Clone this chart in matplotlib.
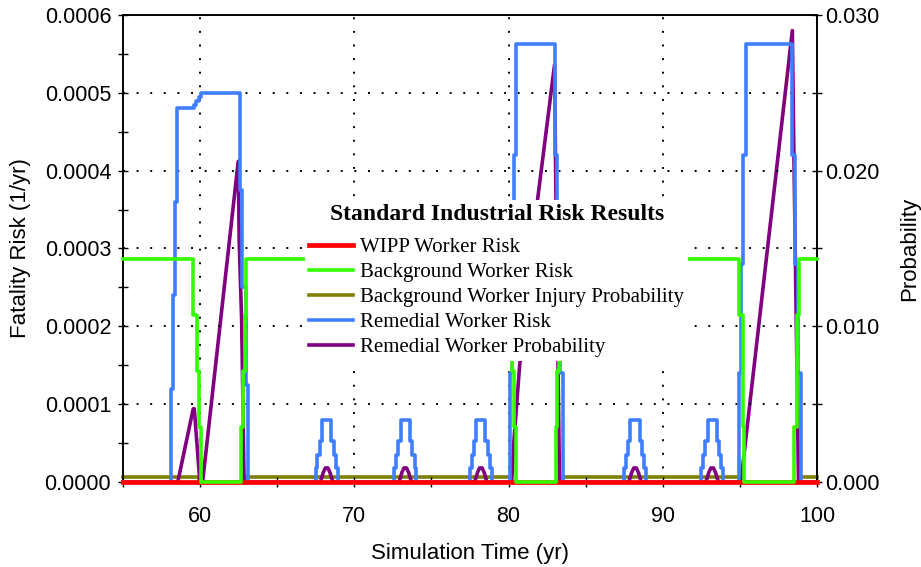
import matplotlib
matplotlib.use("Agg")
import matplotlib.pyplot as plt
from matplotlib.ticker import MultipleLocator, FormatStrFormatter

# ---- values ----
# WIPP worker risk (1/yr) - lies on the axis for the whole run
wipp_t = [55.0, 100.0]
wipp_risk = [0.0, 0.0]

# background worker risk (1/yr), step series (value holds until next time)
bg_t = [55.0, 59.55, 59.8, 59.94, 60.03, 62.64, 62.75, 62.9, 63.0,
        80.1, 80.2, 80.35, 80.5, 83.05, 83.15, 83.3, 83.4,
        94.96, 95.18, 95.28, 98.5, 98.7, 98.85, 100.0]
bg_risk = [2.87e-4, 2.15e-4, 1.43e-4, 0.7e-4, 0.0, 0.7e-4, 1.43e-4, 2.15e-4, 2.87e-4,
           2.15e-4, 1.43e-4, 0.7e-4, 0.0, 0.7e-4, 1.43e-4, 2.15e-4, 2.87e-4,
           2.15e-4, 0.7e-4, 0.0, 0.7e-4, 2.15e-4, 2.87e-4, 2.87e-4]

# background worker injury probability, step series
inj_t = [55.0, 59.9, 62.9, 80.15, 83.45, 95.2, 98.85, 100.0]
inj_prob = [3e-4, 0.0, 3e-4, 0.0, 3e-4, 0.0, 3e-4, 3e-4]

# remedial worker risk (1/yr), step series
rem_t = [55.0,
         58.1, 58.25, 58.37, 58.48, 59.6, 59.75, 59.9, 60.05, 62.6, 62.7, 62.96, 63.1,
         67.48, 67.6, 67.75, 67.9, 68.5, 68.65, 68.8, 68.92,
         72.58, 72.7, 72.85, 73.0, 73.6, 73.75, 73.9, 74.02,
         77.48, 77.6, 77.75, 77.9, 78.5, 78.65, 78.8, 78.92,
         80.1, 80.22, 80.35, 80.47, 83.0, 83.17, 83.35, 83.52,
         87.48, 87.6, 87.75, 87.9, 88.5, 88.65, 88.8, 88.92,
         92.48, 92.6, 92.75, 92.9, 93.5, 93.65, 93.8, 93.92,
         94.96, 95.1, 95.2, 95.4, 98.35, 98.55, 98.75, 98.95,
         100.0]
rem_risk = [0.0,
            1.2e-4, 2.4e-4, 3.6e-4, 4.8e-4, 4.85e-4, 4.9e-4, 4.95e-4, 5.0e-4, 3.75e-4, 2.5e-4, 1.25e-4, 0.0,
            1.8e-5, 3.5e-5, 5.2e-5, 8e-5, 5.2e-5, 3.5e-5, 1.8e-5, 0.0,
            1.8e-5, 3.5e-5, 5.2e-5, 8e-5, 5.2e-5, 3.5e-5, 1.8e-5, 0.0,
            1.8e-5, 3.5e-5, 5.2e-5, 8e-5, 5.2e-5, 3.5e-5, 1.8e-5, 0.0,
            1.4e-4, 2.8e-4, 4.2e-4, 5.63e-4, 4.2e-4, 2.8e-4, 1.4e-4, 0.0,
            1.8e-5, 3.5e-5, 5.2e-5, 8e-5, 5.2e-5, 3.5e-5, 1.8e-5, 0.0,
            1.8e-5, 3.5e-5, 5.2e-5, 8e-5, 5.2e-5, 3.5e-5, 1.8e-5, 0.0,
            1.4e-4, 2.8e-4, 4.2e-4, 5.63e-4, 4.2e-4, 2.8e-4, 1.4e-4, 0.0,
            0.0]

# remedial worker probability (right axis), polyline
remp_t = [55.0, 58.55, 59.55, 59.62, 59.98, 60.16, 62.47, 62.53, 62.69, 62.85,
          67.8, 67.98, 68.12, 68.28, 68.42, 68.6,
          72.9, 73.08, 73.22, 73.38, 73.52, 73.7,
          77.8, 77.98, 78.12, 78.28, 78.42, 78.6,
          80.2, 80.35, 80.71, 81.9, 82.98, 83.05, 83.3,
          87.8, 87.98, 88.12, 88.28, 88.42, 88.6,
          92.8, 92.98, 93.12, 93.28, 93.42, 93.6,
          95.1, 95.18, 98.4, 98.5, 98.8, 100.0]
remp_prob = [0.0, 0.0, 0.0047, 0.0047, 0.0, 0.0, 0.0206, 0.0155, 0.0104, 0.0,
             0.0, 0.0006, 0.0009, 0.0009, 0.0006, 0.0,
             0.0, 0.0006, 0.0009, 0.0009, 0.0006, 0.0,
             0.0, 0.0006, 0.0009, 0.0009, 0.0006, 0.0,
             0.0, 0.0027, 0.0074, 0.0183, 0.0268, 0.020, 0.0,
             0.0, 0.0006, 0.0009, 0.0009, 0.0006, 0.0,
             0.0, 0.0006, 0.0009, 0.0009, 0.0006, 0.0,
             0.0, 0.001, 0.029, 0.0211, 0.0, 0.0]

sans = ["Liberation Sans", "DejaVu Sans"]
serif = ["Liberation Serif", "DejaVu Serif"]

fig = plt.figure(figsize=(9.21, 5.67), dpi=100)
ax = fig.add_axes([0.1336, 0.15, 0.7535, 0.8235])
ax2 = ax.twinx()
# risk axis drawn above the probability axis
ax.set_zorder(ax2.get_zorder() + 1)
ax.patch.set_visible(False)

lw = 2.6
h4, = ax.plot(rem_t, rem_risk, color="#3f7fff", lw=lw, drawstyle="steps-post",
              clip_on=False, zorder=2.9, label="Remedial Worker Risk")
h1, = ax.plot(wipp_t, wipp_risk, color="#ff0000", lw=3.4, clip_on=False, zorder=3,
              label="WIPP Worker Risk")
h2, = ax.plot(bg_t, bg_risk, color="#33ff00", lw=lw, drawstyle="steps-post",
              clip_on=False, zorder=3.1, label="Background Worker Risk")
h3, = ax2.plot(inj_t, inj_prob, color="#808000", lw=lw, drawstyle="steps-post",
               clip_on=False, zorder=3, label="Background Worker Injury Probability")
h5, = ax2.plot(remp_t, remp_prob, color="#800080", lw=lw, clip_on=False, zorder=3.1,
               label="Remedial Worker Probability")

ax.set_xlim(55, 100)
ax.set_ylim(0, 0.0006)
ax2.set_ylim(0, 0.030)

ax.xaxis.set_major_locator(MultipleLocator(10))
ax.xaxis.set_minor_locator(MultipleLocator(5))
ax.yaxis.set_major_locator(MultipleLocator(0.0001))
ax.yaxis.set_minor_locator(MultipleLocator(0.00005))
ax.yaxis.set_major_formatter(FormatStrFormatter("%.4f"))
ax2.yaxis.set_major_locator(MultipleLocator(0.010))
ax2.yaxis.set_minor_locator(MultipleLocator(0.005))
ax2.yaxis.set_major_formatter(FormatStrFormatter("%.3f"))

ax.grid(True, which="major", color="black", linestyle=(0, (1, 6)), linewidth=1.4)

tick_font = 15.5
for a in (ax, ax2):
    a.tick_params(which="both", direction="inout", length=7, width=1, color="black")
    for s in a.spines.values():
        s.set_linewidth(1.2)
ax.tick_params(axis="x", which="both", pad=14, labelsize=tick_font)
ax.tick_params(axis="y", which="both", pad=5, labelsize=tick_font)
ax2.tick_params(axis="y", which="both", pad=2, labelsize=tick_font)
for lab in ax.get_xticklabels() + ax.get_yticklabels() + ax2.get_yticklabels():
    lab.set_family(sans)

ax.set_xlabel("Simulation Time (yr)", fontsize=16, family=sans)
ax.set_ylabel("Fatality Risk (1/yr)", fontsize=16, family=sans)
ax2.set_ylabel("Probability", fontsize=16, family=sans)
ax.xaxis.set_label_coords(0.5, -0.13)
ax.yaxis.set_label_coords(-0.1326, 0.5)
ax2.yaxis.set_label_coords(1.118, 0.5)

leg = ax.legend(handles=[h1, h2, h3, h4, h5],
                title="Standard Industrial Risk Results",
                loc="upper left", bbox_to_anchor=(305 / 921, 1 - 200 / 567),
                bbox_transform=fig.transFigure,
                prop={"family": serif, "size": 15},
                title_fontproperties={"family": serif, "size": 17, "weight": "bold"},
                frameon=True, facecolor="white", edgecolor="white", framealpha=1,
                fancybox=False, borderpad=0.2, labelspacing=0.26,
                handlelength=2.1, handletextpad=0.35, borderaxespad=0)
leg.get_frame().set_linewidth(0)
leg.set_zorder(10)
# a little more room between the legend title and its entries
leg._legend_box.sep += 5

fig.savefig("out.png", dpi=100)
